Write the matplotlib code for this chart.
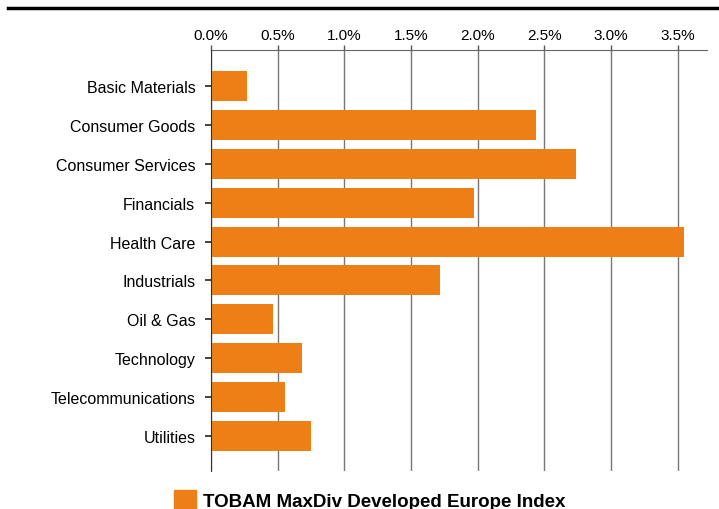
import matplotlib.pyplot as plt
from matplotlib.patches import Rectangle
from matplotlib.ticker import FuncFormatter

plt.rcParams['font.family'] = ['Liberation Sans', 'DejaVu Sans']

sectors = ['Basic Materials', 'Consumer Goods', 'Consumer Services', 'Financials',
           'Health Care', 'Industrials', 'Oil & Gas', 'Technology',
           'Telecommunications', 'Utilities']
weights = [0.27, 2.44, 2.74, 1.97, 3.55, 1.72, 0.465, 0.68, 0.555, 0.75]
x_ticks = [0.0, 0.5, 1.0, 1.5, 2.0, 2.5, 3.0, 3.5]
series_name = 'TOBAM MaxDiv Developed Europe Index'
bar_color = '#EE7F16'

fig = plt.figure(figsize=(7.19, 5.10), dpi=100)
ax = fig.add_axes([211 / 719, 1 - 472 / 510, (707 - 211) / 719, (472 - 51) / 510])

ypos = range(len(sectors))
ax.barh(ypos, weights, height=0.77, color=bar_color, zorder=3)

ax.set_yticks(list(ypos))
ax.set_yticklabels(sectors, fontsize=11.5)
ax.set_ylim(9.9, -0.925)
ax.set_xlim(0, 3.72)
ax.set_xticks(x_ticks)
ax.xaxis.set_major_formatter(FuncFormatter(lambda v, p: f'{v:.1f}%'))
ax.xaxis.tick_top()
ax.tick_params(axis='x', labelsize=11, length=3.6, width=1, color='#555555', pad=2)
ax.tick_params(axis='y', length=4.3, width=1.2, color='#222222', pad=7)

ax.grid(axis='x', color='#777777', linewidth=1, zorder=0)
for side in ['right', 'bottom']:
    ax.spines[side].set_visible(False)
ax.spines['top'].set_color('#666666')
ax.spines['left'].set_color('#333333')
ax.spines['left'].set_zorder(4)

# thick rule at the very top
fig.add_artist(plt.Line2D([8 / 719, 1], [1 - 9 / 510, 1 - 9 / 510], color='black', linewidth=2.5))

# legend
fig.add_artist(Rectangle((174 / 719, 1 - 511 / 510), 22 / 719, 20 / 510,
                         color=bar_color, transform=fig.transFigure))
fig.text(203 / 719, 1 - 503 / 510, series_name, fontsize=13.5, fontweight='bold',
         va='center', ha='left')

fig.savefig('out.png', dpi=100)
